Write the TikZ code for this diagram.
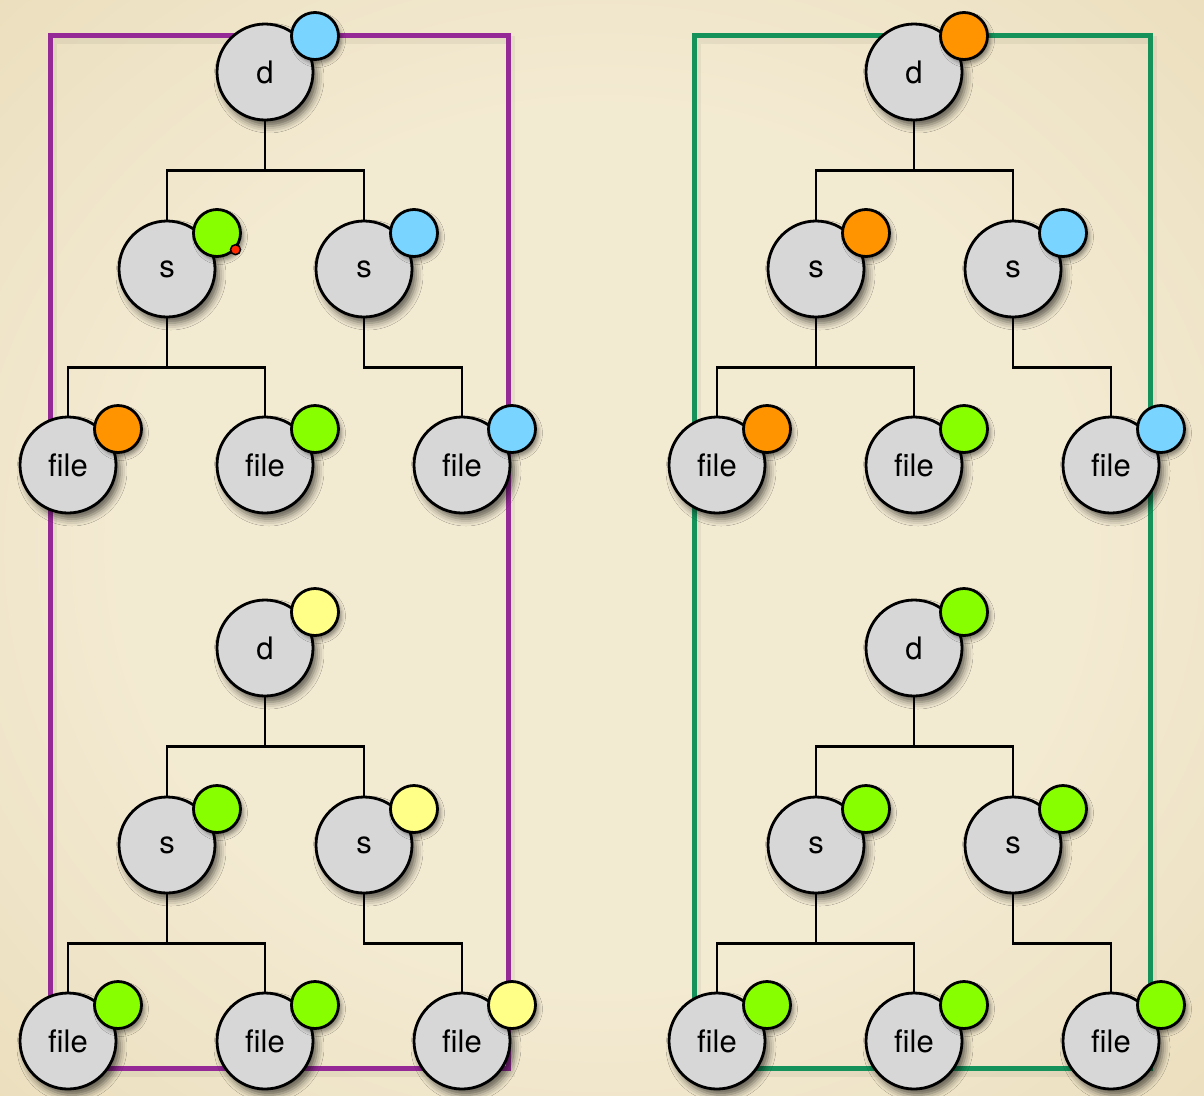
\documentclass[tikz,border=0pt]{standalone}
\usepackage{fontspec}
\setmainfont{TeX Gyre Heros}
\usetikzlibrary{shadows.blur}

\definecolor{paperin}{HTML}{F3EAD2}
\definecolor{papermid}{HTML}{EADDBB}
\definecolor{paperout}{HTML}{D5C196}
\definecolor{blobgrey}{HTML}{D7D7D7}
\definecolor{sky}{HTML}{79D5FF}
\definecolor{lime}{HTML}{88FF00}
\definecolor{tang}{HTML}{FF9400}
\definecolor{lemon}{HTML}{FFFF88}
\definecolor{flagred}{HTML}{FF2A00}
\definecolor{plum}{HTML}{952996}
\definecolor{pine}{HTML}{15925A}

\pgfdeclareradialshading{paper}{\pgfpoint{0bp}{0bp}}{color(0bp)=(paperin); color(20bp)=(paperin); color(38bp)=(papermid); color(50bp)=(paperout)}

\tikzset{
  blob/.style={circle, draw=black, line width=2.8pt, fill=blobgrey, minimum size=96pt, inner sep=0pt,
    font=\fontsize{31}{36}\selectfont,
    blur shadow={shadow xshift=4pt, shadow yshift=-6pt, shadow blur radius=7pt, shadow opacity=60}},
  tag/.style={circle, draw=black, line width=2.8pt, fill=#1, minimum size=47pt, inner sep=0pt,
    xshift=50pt, yshift=36pt,
    blur shadow={shadow xshift=3pt, shadow yshift=-4pt, shadow blur radius=4pt, shadow opacity=45}},
  flag/.style={circle, draw=black, line width=1.5pt, fill=flagred, minimum size=10pt, inner sep=0pt},
  branch/.style={line width=2.2pt},
  frame/.style={draw=#1, line width=5pt},
}

\begin{document}
\begin{tikzpicture}[x=1pt, y=-1pt]
	\useasboundingbox (0,0) rectangle (1204,1095);
	\shade[shading=paper] (0,0) rectangle (1204,1095);

	% the two frames, with a soft shadow
	\draw[black, opacity=.05, line width=8pt, shift={(3,5)}] (50,35) rectangle (508,1068);
	\draw[black, opacity=.05, line width=8pt, shift={(3,5)}] (694,35) rectangle (1150,1068);
	\draw[frame=plum] (50,35) rectangle (508,1068);
	\draw[frame=pine] (694,35) rectangle (1150,1068);

	% four trees: dir, two subdirs, three files
	\foreach \tn/\ox/\oy/\cd/\csa/\csb/\cfa/\cfb/\cfc in {
		a/0/0/sky/lime/sky/tang/lime/sky,
		b/0/576/lemon/lime/lemon/lime/lime/lemon,
		c/649/0/tang/tang/sky/tang/lime/sky,
		d/649/576/lime/lime/lime/lime/lime/lime}
	{
		\begin{scope}[shift={(\ox,\oy)}]
			\node[blob] (d\tn) at (265,72) {d};
			\node[blob] (sa\tn) at (167,269) {s};
			\node[blob] (sb\tn) at (364,269) {s};
			\node[blob] (fa\tn) at (68,465) {file};
			\node[blob] (fb\tn) at (265,465) {file};
			\node[blob] (fc\tn) at (462,465) {file};

			\node[tag=\cd] (td\tn) at (d\tn) {};
			\node[tag=\csa] (tsa\tn) at (sa\tn) {};
			\node[tag=\csb] (tsb\tn) at (sb\tn) {};
			\node[tag=\cfa] (tfa\tn) at (fa\tn) {};
			\node[tag=\cfb] (tfb\tn) at (fb\tn) {};
			\node[tag=\cfc] (tfc\tn) at (fc\tn) {};

			\draw[branch] (d\tn.south) -- ++(0,49) -| (sa\tn.north);
			\draw[branch] (d\tn.south) -- ++(0,49) -| (sb\tn.north);
			\draw[branch] (sa\tn.south) -- ++(0,49) -| (fa\tn.north);
			\draw[branch] (sa\tn.south) -- ++(0,49) -| (fb\tn.north);
			\draw[branch] (sb\tn.south) -- ++(0,49) -| (fc\tn.north);
		\end{scope}
	}

	\node[flag] (mark) at (tsaa.-42) {};
\end{tikzpicture}
\end{document}
